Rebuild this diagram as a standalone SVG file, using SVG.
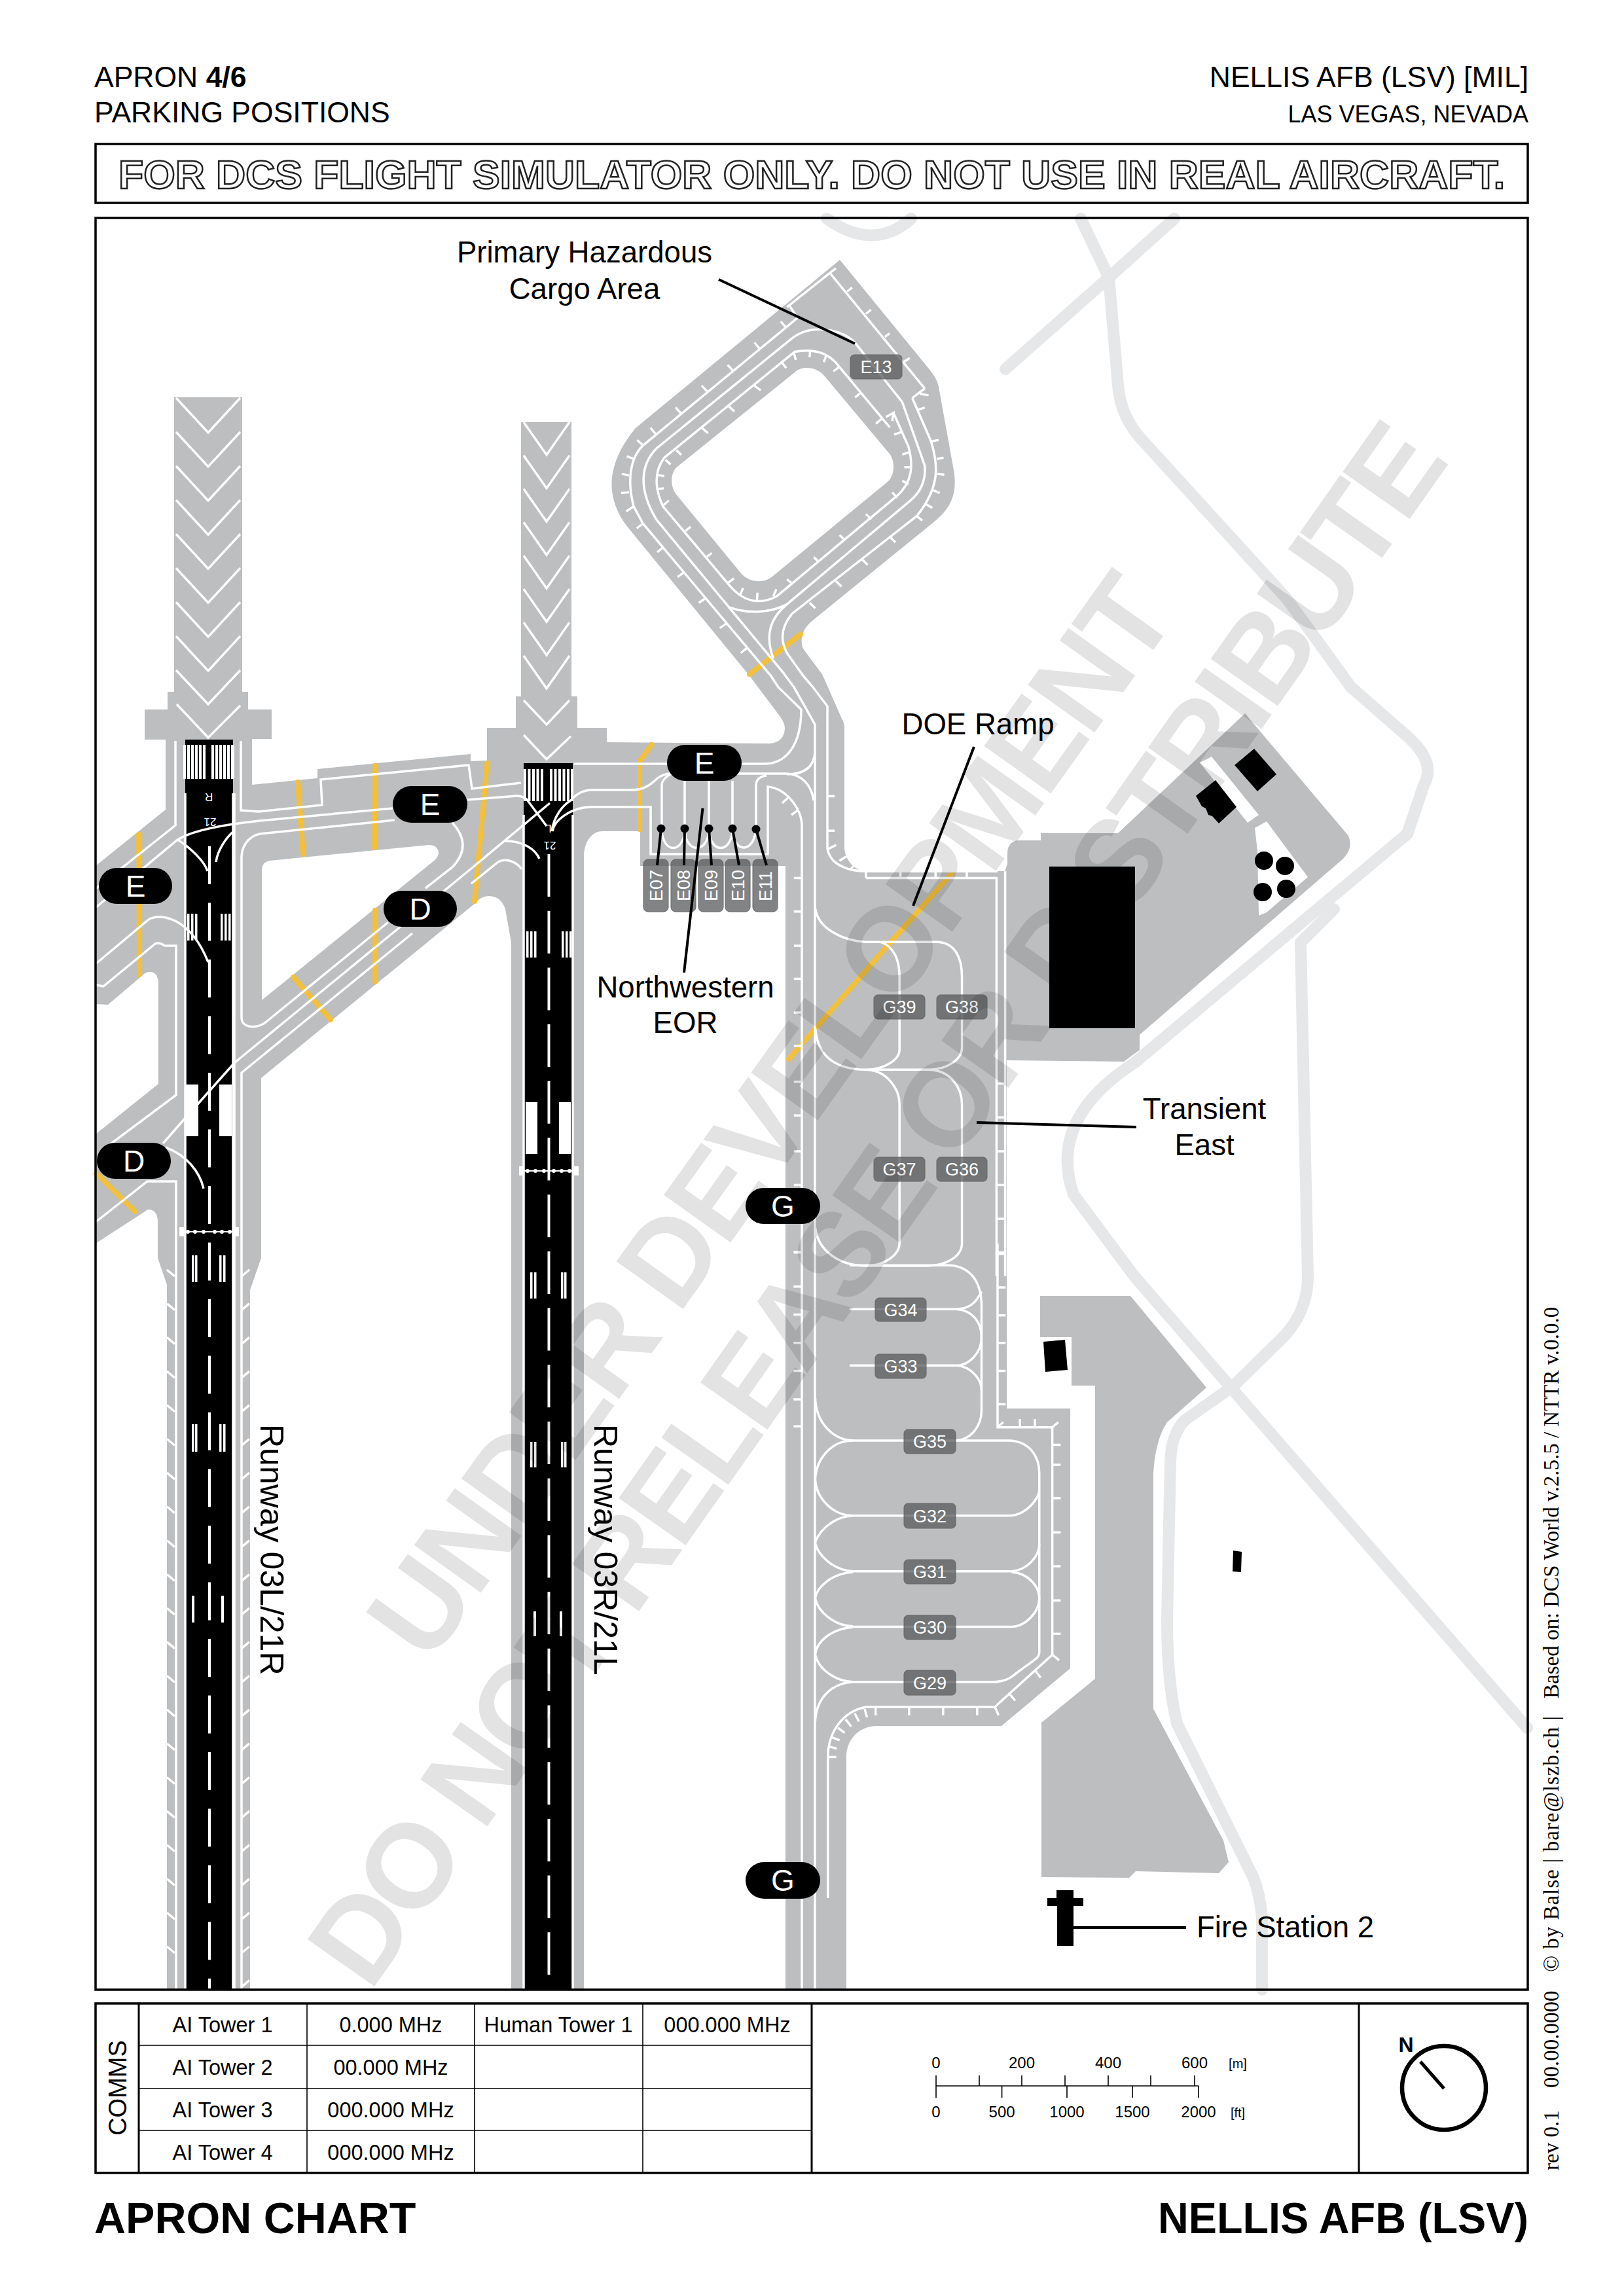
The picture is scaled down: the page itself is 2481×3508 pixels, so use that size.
<svg xmlns="http://www.w3.org/2000/svg" width="2481" height="3508" viewBox="0 0 2481 3508">
<style>
text{font-family:"Liberation Sans",Arial,sans-serif;fill:#000}
.road{fill:none;stroke:#e6e7e8;stroke-width:18;stroke-linecap:round;stroke-linejoin:round}
.g{fill:#bcbec0}
.k{fill:#000}
.wf{fill:#fff}
.w{fill:none;stroke:#fff;stroke-width:3.5;vector-effect:non-scaling-stroke}
.y{fill:none;stroke:#f3c03b;stroke-width:8;stroke-linecap:round;stroke-linejoin:round}
.box{fill:none;stroke:#000;stroke-width:3.5}
.thin{fill:none;stroke:#000;stroke-width:1.6}
.lead{fill:none;stroke:#000;stroke-width:4}
.h{font-size:44.500px}
.lab{font-size:45.600px;text-anchor:middle}
.tb{font-size:32.500px;text-anchor:middle}
.sc{font-size:24px;text-anchor:middle}
.u{font-size:20px;text-anchor:middle}
.st{fill:#58595b;fill-opacity:.75;stroke:#666;stroke-width:1}
.stt{font-size:27px;fill:#fff;text-anchor:middle}
.pt{font-size:46px;fill:#fff;text-anchor:middle}
.side{font-family:"Liberation Serif",serif;font-size:33px}
.wm{font-size:182px;font-weight:bold;fill:#000;fill-opacity:.11}
.rn{font-size:17px;fill:#fff;text-anchor:middle}
</style>
<rect width="2481" height="3508" fill="#fff"/>
<g id="background-roads">
<path class="road" d="M1263,334Q1335,385 1392,334"/>
<path class="road" d="M1651,334L1694,424L1708,589Q1712,640 1751,679L1966,915L2064,1050L2150,1125Q2195,1165 2175,1200L2150,1274L1733,1624Q1600,1710 1640,1825L1733,1950L1950,2200L2333,2640"/>
<path class="road" d="M1794,334L1694,424L1536,564"/>
<path class="road" d="M2038,1389L1987,1440L1998,1950Q1998,2010 1950,2053L1885,2117L1810,2170Q1790,2190 1788,2232L1783,2474Q1783,2570 1798,2633L1915,2869Q1925,2895 1928,2930L1928,3040"/>
</g>
<g id="airfield">
<path class="g" fill-rule="evenodd" d="M266,607H370V1057H379V1084H415V1129H385V1199L485,1189V1175L719,1152V1163L744,1162V1112H788V1064H796V645H873V1064H882V1112H927V1134L1176,1136Q1198,1134 1199,1113Q1199,1105 1192,1095L1143,1030L957,803C925,760 925,710 971,654L1283,397L1422,567Q1432,580 1434,591L1458,724C1462,760 1450,780 1420,803L1239,950C1222,965 1222,985 1229,994L1256,1030L1290,1107V1297C1293,1320 1310,1331 1323,1331H1535L1539,1320V1303Q1540,1284 1558,1284H1590V1273H1708L1902,1090L2060,1277Q2068,1295 2052,1312L1741,1581V1604L1717,1622L1538,1620V2152H1635V2549L1530,2637H1341C1310,2637 1293,2660 1293,2684V3040H1200V1323H978V1270H920C905,1270 892,1285 892,1310V3040H781V1440L772,1389Q765,1369 747,1369Q735,1369 726,1380L399,1647V1922L382,1971V3040H255V1963L241,1922V1865Q240,1848 226,1848L146,1900V1733L242,1656V1500Q240,1485 230,1485Q222,1485 218,1490L165,1535L146,1534V1323L253,1237V1130H221V1084H256V1057H266ZM400,1528V1330Q400,1317 412,1315L655,1291Q668,1291 670,1302Q670,1310 662,1316ZM1036,712C1024,720 1022,745 1036,759L1133,877C1145,890 1168,892 1181,880L1355,737C1368,727 1368,702 1357,691L1260,575C1248,560 1225,558 1214,569Z"/>
<path class="g" d="M1589,1980H1727L1843,2120L1783,2173Q1765,2200 1762,2251V2611L1869,2812L1877,2845L1862,2862L1735,2859L1725,2869L1591,2868V2632L1673,2565V2117H1637V2043H1589Z"/>
<path class="wf" d="M1833,1165L1851,1156L1923,1245L1906,1257ZM1917,1265L1935,1255L1998,1340L1935,1394L1923,1399L1921,1300Z"/>
</g>
<g id="buildings">
<rect class="k" x="1603" y="1324" width="131" height="247"/>
<path class="k" d="M1916,1144L1950,1183L1921,1209L1886,1169ZM1857,1192L1889,1233L1862,1258L1852,1247L1846,1245L1842,1235L1836,1232L1827,1216ZM1594,2050L1627,2047L1631,2093L1597,2096ZM1884,2369L1897,2371L1896,2402L1883,2401ZM1614,2888H1640V2900H1655V2912H1640V2973H1615V2912H1600V2900H1614Z"/>
<circle class="k" cx="1931" cy="1315" r="14"/><circle class="k" cx="1963" cy="1323" r="14"/><circle class="k" cx="1929" cy="1363" r="14"/><circle class="k" cx="1965" cy="1358" r="14"/>
</g>
<g id="taxi-holdlines">
<path class="y" d="M455,1195Q458,1240 463,1305M573,1170L572,1295M212,1275L213,1489M573,1391V1500M448,1493L505,1558M744,1166L725,1377M995,1138L977,1163V1267M147,1793L206,1851M1223,969L1145,1030M1453,1335L1352,1449L1205,1618"/>
</g>
<g id="runway-03L-21R">
<rect class="k" x="283" y="1130" width="73" height="1910"/>
<path class="wf" d="M280,1138h4v52h-4zM286,1138h4v52h-4zM292,1138h4v52h-4zM298,1138h4v52h-4zM304,1138h4v52h-4zM310,1138h4v52h-4zM323,1138h4v52h-4zM329,1138h4v52h-4zM335,1138h4v52h-4zM341,1138h4v52h-4zM347,1138h4v52h-4zM353,1138h5v52h-5zM286,1396h3.5v41h-3.5zM292,1396h3.5v41h-3.5zM298,1396h3.5v41h-3.5zM337,1396h3.5v41h-3.5zM343,1396h3.5v41h-3.5zM349,1396h3.5v41h-3.5zM284,1657h19v79h-19zM335,1657h19v79h-19zM293,1918h3.5v41h-3.5zM298,1918h3.5v41h-3.5zM335,1918h3.5v41h-3.5zM341,1918h3.5v41h-3.5zM293,2176h3.5v42h-3.5zM298,2176h3.5v42h-3.5zM335,2176h3.5v42h-3.5zM341,2176h3.5v42h-3.5zM293,2438h4v41h-4zM338,2438h4v41h-4zM274,1875h7v14h-7zM358,1875h7v14h-7z"/>
<path class="w" d="M283,1212V3040M356,1212V3040"/>
<path class="w" style="stroke-width:4" d="M320,1293V3040" stroke-dasharray="58 28.5"/>
<path class="w" style="stroke-width:2" d="M280,1882H360"/>
<g class="wf"><circle cx="287" cy="1882" r="3"/><circle cx="298" cy="1882" r="3"/><circle cx="311" cy="1882" r="3"/><circle cx="328" cy="1882" r="3"/><circle cx="339" cy="1882" r="3"/><circle cx="351" cy="1882" r="3"/></g>
<text class="rn" transform="translate(319 1212) rotate(180)">R</text>
<text class="rn" transform="translate(321 1250) rotate(180)">21</text>
</g>
<g id="runway-03R-21L">
<rect class="k" x="800" y="1166" width="75" height="1874"/>
<path class="wf" d="M800,1175h4v49h-4zM806.500,1175h4v49h-4zM813,1175h4v49h-4zM819.500,1175h4v49h-4zM826,1175h4v49h-4zM840,1175h4v49h-4zM846.500,1175h4v49h-4zM853,1175h4v49h-4zM859.500,1175h4v49h-4zM866,1175h4v49h-4zM872,1175h4v49h-4zM804,1423h3.500v40h-3.500zM810,1423h3.500v40h-3.500zM816,1423h3.500v40h-3.500zM858,1423h3.500v40h-3.500zM864,1423h3.500v40h-3.500zM870,1423h3.500v40h-3.500zM803,1684h18v79h-18zM854,1684h18v79h-18zM810,1944h3.500v40h-3.500zM816,1944h3.500v40h-3.500zM857,1944h3.500v40h-3.500zM862,1944h3.500v40h-3.500zM810,2203h3.500v39h-3.500zM816,2203h3.500v39h-3.500zM857,2203h3.500v39h-3.500zM862,2203h3.500v39h-3.500zM815,2462h4v38h-4zM855,2462h4v38h-4zM793,1782h7v14h-7zM877,1782h7v14h-7z"/>
<path class="w" d="M800,1245V3040M875,1245V3040"/>
<path class="w" style="stroke-width:4" d="M838.500,1305V3040" stroke-dasharray="65 21.700"/>
<path class="w" style="stroke-width:2" d="M798,1789H880"/>
<g class="wf"><circle cx="806" cy="1789" r="3"/><circle cx="818" cy="1789" r="3"/><circle cx="831" cy="1789" r="3"/><circle cx="846" cy="1789" r="3"/><circle cx="858" cy="1789" r="3"/><circle cx="870" cy="1789" r="3"/></g>
<text class="rn" transform="translate(838 1260) rotate(180)">L</text>
<text class="rn" transform="translate(840 1286) rotate(180)">21</text>
</g>
<g id="taxi-lines">
<g id="chevrons"><path class="w" d="M269,608L318,661L367,608M269,660L318,713L367,660M269,712L318,765L367,712M269,764L318,817L367,764M269,816L318,869L367,816M269,868L318,921L367,868M269,920L318,973L367,920M269,972L318,1025L367,972M269,1024L318,1076L367,1024M270,1076L318,1127L367,1078M800,645L835,695L870,645M800,696L835,746L870,696M800,747L835,797L870,747M800,798L835,848L870,798M800,849L835,899L870,849M800,900L835,950L870,900M800,951L835,1001L870,951M800,1002L835,1052L870,1002M800,1070L835,1107L870,1070M800,1123L835,1160L872,1125"/></g>
<path class="w" d="M268,1132V1261L146,1358M368,1132V1238L395,1240L492,1230L490,1191L716,1169L721,1205L796,1196"/>
<path class="w" d="M147,1386L270,1284C290,1270 340,1260 397,1254L600,1235M714,1222L789,1216Q800,1216 806,1223L835,1262M273,1284C290,1295 312,1315 317,1331M330,1317C332,1300 345,1280 357,1270"/>
<path class="w" d="M603,1253L397,1274C378,1278 369,1295 369,1310V1555C369,1572 395,1572 407,1561L593,1409M650,1357L691,1325C712,1303 712,1280 691,1257"/>
<path class="w" d="M840,1227L720,1327L358,1624L302,1687L284,1707L249,1747M772,1285C800,1285 818,1298 824,1312M720,1350L761,1317C775,1310 790,1318 797,1328M253,1753C285,1765 305,1790 311,1816"/>
<path class="w" d="M630,1426L369,1639V3040"/>
<path class="w" d="M147,1472L227,1405C245,1395 290,1400 318,1470M147,1505L158,1507L237,1442C245,1438 250,1445 252,1445H269V1673L158,1756M145,1868L225,1805H269V3040"/>
<path class="w" d="M255,1940l12,10m-12,41.700l12,10m-12,41.700l12,10m-12,41.700l12,10m-12,41.700l12,10m-12,41.700l12,10m-12,41.700l12,10m-12,41.700l12,10m-12,41.700l12,10m-12,41.700l12,10m-12,41.700l12,10m-12,41.700l12,10m-12,41.700l12,10m-12,41.700l12,10m-12,41.700l12,10m-12,41.700l12,10m-12,41.700l12,10m-12,41.700l12,10m-12,41.700l12,10m-12,41.700l12,10m-12,41.700l12,10M369,1950l12,-10m-12,61.700l12,-10m-12,61.700l12,-10m-12,61.700l12,-10m-12,61.700l12,-10m-12,61.700l12,-10m-12,61.700l12,-10m-12,61.700l12,-10m-12,61.700l12,-10m-12,61.700l12,-10m-12,61.700l12,-10m-12,61.700l12,-10m-12,61.700l12,-10m-12,61.700l12,-10m-12,61.700l12,-10m-12,61.700l12,-10m-12,61.700l12,-10m-12,61.700l12,-10m-12,61.700l12,-10m-12,61.700l12,-10m-12,61.700l12,-10m-12,61.700l12,-10"/>
<path class="w" d="M358,1212V3040"/>
<path class="w" d="M843,1270C846,1247 860,1230 872,1223Q885,1207 905,1207H966Q985,1207 1000,1193Q1010,1183 1023,1182H1202C1225,1183 1240,1200 1243,1223M1245,1150C1243,1175 1225,1183 1202,1183M877,1167H1168C1200,1167 1224,1140 1224,1084L1189,1050L1176,1030M844,1270C846,1255 870,1233 905,1233H994V1305H1173V1202C1200,1204 1225,1235 1225,1262V3040M1011,1267V1200Q1011,1190 1026,1182M1046,1193V1267M1083,1193V1267M1119,1193V1267M1155,1263V1200Q1155,1187 1171,1185M1011,1267C1012,1305 1045,1305 1046,1267C1047,1305 1082,1305 1083,1267C1084,1305 1118,1305 1119,1267C1120,1305 1154,1305 1155,1263M1195,1227L1205,1218M1209,1245L1219,1238"/>
<path class="w" d="M1198,1030L1213,1050L1245,1107V3040M1225,1030L1242,1050L1264,1079V1297"/>
<g id="loop-lines" transform="translate(900 380) scale(.3827 .4146)">
<path class="w" d="M985,72L790,215M800,210L832,255L215,725C165,770 150,850 178,950L215,1013L720,1568"/>
<path class="w" d="M960,88L1340,515M1320,535L1355,540M1290,550L1340,515M1290,550L1365,710C1395,800 1400,880 1308,985L810,1345C770,1390 760,1440 790,1490L850,1568"/>
<path class="w" d="M1250,565L1060,345C1000,290 880,280 810,330L270,735C210,790 190,880 270,1000L780,1568"/>
<path class="w" d="M1250,565L1340,800C1345,860 1320,900 1280,930L790,1310C725,1360 700,1420 735,1510"/>
<path class="w" d="M555,1320C630,1345 720,1345 790,1310"/>
<path class="w" d="M1170,625L985,420C940,375 880,370 820,380L300,770C260,820 260,880 295,950L555,1235C620,1310 690,1310 750,1280L1230,910C1290,860 1295,800 1275,730L1215,605M1185,620L1215,605L1210,635M1145,645L1170,625L1200,658"/>
<path class="w" d="M1030,158L1050,143M1105,240L1125,225M1180,325L1200,312M1255,418L1280,403M1310,595L1340,585M1365,710L1395,705M1388,775L1415,770M1390,830L1418,833M1372,890L1400,900M1342,940L1370,955M1308,985L1330,1002M1200,1060L1222,1082M1090,1145L1112,1165M985,1225L1008,1245M880,1305L903,1325"/>
<path class="w" d="M765,268L785,290M660,345L680,368M553,428L575,450M450,505L470,525M345,585L365,605M245,660L265,682M192,705L215,725M150,765L180,775M130,830L160,835M128,900L160,897M148,968L178,950M190,1030L215,1013M272,1118L296,1100M353,1210L380,1192M438,1305L465,1288M522,1398L550,1380M605,1490L632,1470"/>
<path class="w" d="M1062,548L1085,530M975,452L1000,435M937,418L948,390M880,400L883,372M825,410L818,385M770,420L787,440M660,505L685,522M555,578L580,600M450,660L475,680M348,742L368,760M305,778L325,795M270,833L300,838M270,887L298,883M297,945L318,928M385,1040L405,1025M470,1135L490,1122M553,1232L578,1215M603,1275L615,1250M670,1295L672,1268M735,1280L748,1255M790,1218L812,1235M897,1137L918,1155M1000,1055L1022,1075M1105,978L1127,997M1210,898L1230,918M1250,855L1275,868M1258,805L1287,805M1250,758L1280,750M1218,685L1248,675"/>
</g>
<g id="apron-lines-north" transform="translate(1000 1050) scale(.7337 .574)">
<path class="w" d="M360,430C365,470 400,490 440,490H715M440,508H712V1568M730,490V1568"/>
<path class="w" d="M335,590C340,640 390,675 440,678H590C625,680 640,720 640,770V960C640,990 610,1018 570,1018H440C385,1018 340,990 335,910M440,678H470C500,690 510,730 510,770V965C510,990 480,1018 440,1018C485,1020 510,1070 510,1110V1480C510,1510 480,1540 440,1540C385,1540 340,1500 335,1440M570,1018C620,1020 640,1070 640,1110V1480C640,1520 600,1540 570,1540H440"/>
<path class="w" d="M440,490V508M512,490V508M585,490V508M650,490V508M360,290H375M360,382H375M362,430L378,420M385,462L400,450M408,485L418,470M290,508H305M290,597H305M290,688H305M290,776H305M290,866H305M290,955H305M290,1050H305M290,1140H305M290,1235H305M290,1325H305M290,1417H305M290,1505H305M712,1055H730M712,1145H730M712,1235H730M712,1325H730M712,1415H730M712,1505H730"/>
</g>
<g id="apron-lines-south" transform="translate(1150 1900) scale(.5102 .6378)">
<path class="w" d="M290,52H590C650,55 685,90 685,150V400C685,440 650,470 610,472H300C240,470 190,430 187,370"/>
<path class="w" d="M685,115C670,140 650,157 610,157H290M610,157C660,160 685,190 685,225C685,260 650,292 610,292H290M610,292C660,295 685,330 685,350"/>
<path class="w" d="M300,472C230,472 190,520 187,565C190,610 240,652 300,652H770C820,650 858,610 858,590M610,472H770C830,475 858,510 858,550V980C858,995 835,1000 780,1035C760,1048 740,1050 720,1050H300"/>
<path class="w" d="M300,652C230,655 190,700 187,718C195,745 240,783 300,785H775C820,783 858,750 858,720M775,787C830,790 858,825 858,850C858,880 820,917 775,918H300M300,787C235,790 190,825 187,850C195,880 240,915 300,917M300,919C235,922 190,955 187,985C195,1015 240,1048 300,1050C235,1053 190,1090 187,1145"/>
<path class="w" d="M733,0V440H897V985L725,1110H340C270,1120 225,1170 225,1230V1568"/>
<path class="w" d="M122,20H148M122,103H148M122,170H148M122,238H148M122,305H148M122,373H148M122,438H148M733,25H757M733,105H757M733,172H757M733,238H757M733,305H757M733,385H757M800,420V440M845,420V440M733,440L750,428M897,440L915,428M897,482H922M897,530H922M897,610H922M897,692H922M897,773H922M897,855H922M897,935H922M897,985L917,998M845,1022L862,1040M770,1080L786,1095M725,1110L736,1130M672,1110V1130M570,1110V1130M468,1110V1130M368,1110V1130M335,1115L342,1135M305,1125L318,1145M278,1140L295,1157M255,1160L275,1172M238,1183L260,1190M228,1205L252,1210M225,1230H250"/>
</g>
</g>
<g id="stands">
<g id="E13"><rect class="st" x="1299" y="542" width="79" height="37" rx="6"/><text class="stt" x="1338.500" y="570">E13</text></g>
<g id="E07"><rect class="st" x="983" y="1313" width="38" height="80" rx="7"/><text class="stt" transform="translate(1012 1377) rotate(-90)" style="text-anchor:start">E07</text></g>
<g id="E08"><rect class="st" x="1025" y="1313" width="38" height="80" rx="7"/><text class="stt" transform="translate(1054 1377) rotate(-90)" style="text-anchor:start">E08</text></g>
<g id="E09"><rect class="st" x="1067" y="1313" width="38" height="80" rx="7"/><text class="stt" transform="translate(1096 1377) rotate(-90)" style="text-anchor:start">E09</text></g>
<g id="E10"><rect class="st" x="1108" y="1313" width="38" height="80" rx="7"/><text class="stt" transform="translate(1137 1377) rotate(-90)" style="text-anchor:start">E10</text></g>
<g id="E11"><rect class="st" x="1150" y="1313" width="38" height="80" rx="7"/><text class="stt" transform="translate(1179 1377) rotate(-90)" style="text-anchor:start">E11</text></g>
<g id="G39"><rect class="st" x="1335" y="1520" width="78" height="37" rx="6"/><text class="stt" x="1374" y="1548">G39</text></g>
<g id="G38"><rect class="st" x="1431" y="1520" width="77" height="37" rx="6"/><text class="stt" x="1469.500" y="1548">G38</text></g>
<g id="G37"><rect class="st" x="1335" y="1768" width="78" height="37" rx="6"/><text class="stt" x="1374" y="1796">G37</text></g>
<g id="G36"><rect class="st" x="1431" y="1768" width="77" height="37" rx="6"/><text class="stt" x="1469.500" y="1796">G36</text></g>
<g id="G34"><rect class="st" x="1337" y="1983" width="78" height="36" rx="6"/><text class="stt" x="1376" y="2011">G34</text></g>
<g id="G33"><rect class="st" x="1337" y="2069" width="78" height="37" rx="6"/><text class="stt" x="1376" y="2097">G33</text></g>
<g id="G35"><rect class="st" x="1381" y="2184" width="79" height="37" rx="6"/><text class="stt" x="1420.500" y="2212">G35</text></g>
<g id="G32"><rect class="st" x="1381" y="2297" width="79" height="38" rx="6"/><text class="stt" x="1420.500" y="2326">G32</text></g>
<g id="G31"><rect class="st" x="1381" y="2383" width="79" height="37" rx="6"/><text class="stt" x="1420.500" y="2411">G31</text></g>
<g id="G30"><rect class="st" x="1381" y="2468" width="79" height="37" rx="6"/><text class="stt" x="1420.500" y="2496">G30</text></g>
<g id="G29"><rect class="st" x="1381" y="2552" width="79" height="38" rx="6"/><text class="stt" x="1420.500" y="2581">G29</text></g>
</g>
<g id="connectors">
<path class="lead" d="M1098,427L1306,525M1488,1141L1395,1384M1073.500,1235L1045,1486M1492,1715L1736,1722M1640,2945H1812M1010,1266L1004,1322M1046,1266L1045,1322M1083,1266L1087,1322M1119,1266L1129,1322M1155,1267L1171,1322"/>
<g class="k"><circle cx="1010" cy="1266" r="6.500"/><circle cx="1046" cy="1266" r="6.500"/><circle cx="1083" cy="1266" r="6.500"/><circle cx="1119" cy="1266" r="6.500"/><circle cx="1155" cy="1267" r="6.500"/></g>
</g>
<g id="taxiway-badges">
<g id="twy-E-left"><rect class="k" x="151" y="1326" width="112" height="55" rx="27.500"/><text class="pt" x="207" y="1370">E</text></g>
<g id="twy-E-mid"><rect class="k" x="600" y="1201" width="114" height="56" rx="28"/><text class="pt" x="657" y="1245">E</text></g>
<g id="twy-E-right"><rect class="k" x="1019" y="1138" width="114" height="55" rx="27.500"/><text class="pt" x="1076" y="1182">E</text></g>
<g id="twy-D-mid"><rect class="k" x="586" y="1361" width="112" height="55" rx="27.500"/><text class="pt" x="642" y="1405">D</text></g>
<g id="twy-D-left"><rect class="k" x="148" y="1746" width="113" height="55" rx="27.500"/><text class="pt" x="204.500" y="1790">D</text></g>
<g id="twy-G-upper"><rect class="k" x="1139" y="1815" width="114" height="55" rx="27.500"/><text class="pt" x="1196" y="1859">G</text></g>
<g id="twy-G-lower"><rect class="k" x="1139" y="2845" width="114" height="56" rx="28"/><text class="pt" x="1196" y="2889">G</text></g>
</g>
<g id="labels">
<text class="lab" x="893" y="401">Primary Hazardous</text><text class="lab" x="893" y="457">Cargo Area</text>
<text class="lab" x="1494" y="1122">DOE Ramp</text>
<text class="lab" x="1047" y="1524">Northwestern</text><text class="lab" x="1047" y="1578">EOR</text>
<text class="lab" x="1840" y="1710">Transient</text><text class="lab" x="1840" y="1765">East</text>
<text x="1828" y="2960" font-size="45.600">Fire Station 2</text>
<text font-size="50" transform="translate(398 2176) rotate(90)">Runway 03L/21R</text>
<text font-size="50" transform="translate(908 2176) rotate(90)">Runway 03R/21L</text>
</g>
<g id="watermark">
<text class="wm" transform="translate(655 2545) rotate(-54.500)" textLength="1975" lengthAdjust="spacing">UNDER DEVELOPMENT</text>
<text class="wm" transform="translate(565 3045) rotate(-54.800)" textLength="2865" lengthAdjust="spacing">DO NOT RELEASE OR DISTRIBUTE</text>
</g>
<g id="frame">
<text class="h" x="144" y="133">APRON <tspan font-weight="bold">4/6</tspan></text>
<text class="h" x="144" y="187">PARKING POSITIONS</text>
<text class="h" x="2335" y="133" text-anchor="end">NELLIS AFB (LSV) [MIL]</text>
<text x="2335" y="187" font-size="36" text-anchor="end">LAS VEGAS, NEVADA</text>
<rect class="box" x="146" y="220" width="2188" height="90"/>
<text x="1240" y="288" font-size="62" font-weight="bold" text-anchor="middle" textLength="2118" lengthAdjust="spacingAndGlyphs" style="fill:#fff;stroke:#222;stroke-width:2.500">FOR DCS FLIGHT SIMULATOR ONLY. DO NOT USE IN REAL AIRCRAFT.</text>
<rect class="box" x="146" y="333" width="2188" height="2707"/>
</g>
<g id="comms-table">
<rect class="box" x="146" y="3061" width="2188" height="259"/>
<path class="box" d="M212,3061V3320M1240,3061V3320M2076,3061V3320" style="stroke-width:3"/>
<path class="thin" d="M469,3061V3320M725,3061V3320M982,3061V3320M212,3125H1240M212,3191H1240M212,3255H1240"/>
<text transform="translate(193 3190) rotate(-90)" font-size="38" text-anchor="middle">COMMS</text>
<text class="tb" x="340" y="3105">AI Tower 1</text><text class="tb" x="597" y="3105">0.000 MHz</text><text class="tb" x="853" y="3105">Human Tower 1</text><text class="tb" x="1111" y="3105">000.000 MHz</text>
<text class="tb" x="340" y="3170">AI Tower 2</text><text class="tb" x="597" y="3170">00.000 MHz</text>
<text class="tb" x="340" y="3235">AI Tower 3</text><text class="tb" x="597" y="3235">000.000 MHz</text>
<text class="tb" x="340" y="3300">AI Tower 4</text><text class="tb" x="597" y="3300">000.000 MHz</text>
</g>
<g id="scale-bar">
<path class="thin" d="M1430,3187H1831M1430,3171V3205M1496,3171V3187M1561,3171V3187M1627,3171V3187M1693,3171V3187M1758,3171V3187M1825,3171V3187M1530.600,3187V3205M1630,3187V3205M1730,3187V3205M1831,3187V3205"/>
<text class="sc" x="1430" y="3160">0</text><text class="sc" x="1561" y="3160">200</text><text class="sc" x="1693" y="3160">400</text><text class="sc" x="1825" y="3160">600</text><text class="u" x="1891" y="3160">[m]</text>
<text class="sc" x="1430" y="3235">0</text><text class="sc" x="1530.600" y="3235">500</text><text class="sc" x="1630" y="3235">1000</text><text class="sc" x="1730" y="3235">1500</text><text class="sc" x="1831" y="3235">2000</text><text class="u" x="1891" y="3235">[ft]</text>
</g>
<g id="north-arrow">
<circle cx="2206" cy="3190" r="64" fill="none" stroke="#000" stroke-width="6.500"/>
<path d="M2170,3150L2206,3191" fill="none" stroke="#000" stroke-width="5"/>
<text x="2148" y="3135" font-size="32" font-weight="bold" text-anchor="middle">N</text>
</g>
<text x="144" y="3412" font-size="66.500" font-weight="bold">APRON CHART</text>
<text x="2335" y="3412" font-size="66" font-weight="bold" text-anchor="end" textLength="566" lengthAdjust="spacingAndGlyphs">NELLIS AFB (LSV)</text>
<g id="credits">
<text class="side" transform="translate(2381 3316) rotate(-90)">rev 0.1</text>
<text class="side" transform="translate(2381 3190) rotate(-90)">00.00.0000</text>
<text class="side" transform="translate(2381 3013) rotate(-90)" textLength="391" lengthAdjust="spacing">© by Balse | bare@lszb.ch |</text>
<text class="side" transform="translate(2381 2595) rotate(-90)">Based on: DCS World v.2.5.5 / NTTR v.0.0.0</text>
</g>
</svg>
